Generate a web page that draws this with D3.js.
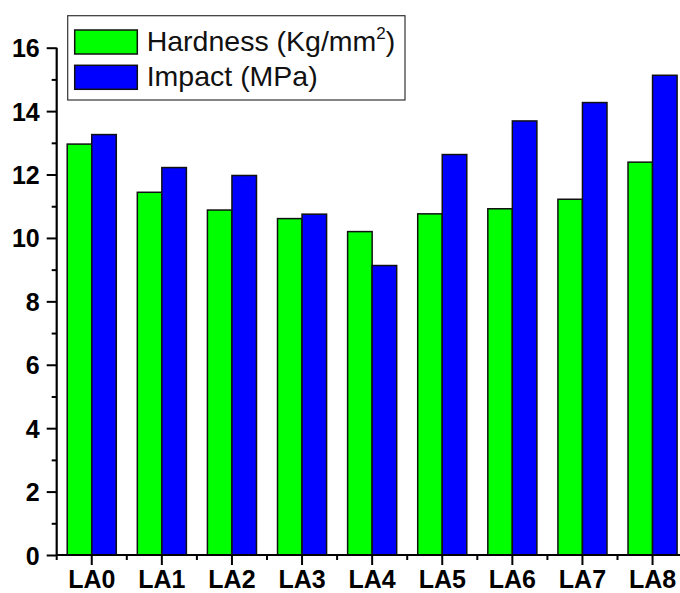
<!DOCTYPE html>
<html>
<head>
<meta charset="utf-8">
<script src="https://cdn.jsdelivr.net/npm/d3@7"></script>
<style>
  body { margin: 0; background: #fff; }
  text { font-family: Arial, "Liberation Sans", sans-serif; }
</style>
</head>
<body>
<svg id="chart" width="680" height="593"></svg>
<script>
const samples = ["LA0", "LA1", "LA2", "LA3", "LA4", "LA5", "LA6", "LA7", "LA8"]
const hardness = [12.96, 11.44, 10.88, 10.61, 10.20, 10.76, 10.92, 11.22, 12.39]
const impact = [13.26, 12.22, 11.97, 10.75, 9.13, 12.63, 13.69, 14.27, 15.13]
const seriesNames = ["hardness", "impact"]
const colors = ["#00ff00", "#0000ff"]
const yMajor = [0, 2, 4, 6, 8, 10, 12, 14, 16]
const yMinor = [1, 3, 5, 7, 9, 11, 13, 15]

const svg = d3.select('#chart')
const plotLeft = 56.7, plotBottom = 555, plotTop = 47.7

const x = d3.scaleBand()
    .domain(samples)
    .range([plotLeft, plotLeft + 9 * 70.1])
    .paddingInner(0.3)
    .paddingOuter(0.15)

const xSub = d3.scaleBand()
    .domain(seriesNames)
    .range([0, x.bandwidth()])

const y = d3.scaleLinear()
    .domain([0, 16])
    .range([plotBottom, plotTop])

const rows = samples.map((s, i) => ({ s, vals: [hardness[i], impact[i]] }))

// bars
svg.append('g')
    .selectAll('g')
    .data(rows)
    .join('g')
    .attr('transform', d => `translate(${x(d.s)},0)`)
    .selectAll('rect')
    .data(d => d.vals.map((v, k) => ({ v, k })))
    .join('rect')
    .attr('x', d => xSub(seriesNames[d.k]))
    .attr('y', d => y(d.v))
    .attr('width', xSub.bandwidth())
    .attr('height', d => plotBottom - y(d.v))
    .attr('fill', d => colors[d.k])
    .attr('stroke', '#111')
    .attr('stroke-width', 1.5)

// y axis
const yAxis = svg.append('g')
    .attr('transform', `translate(${plotLeft},0)`)
    .call(d3.axisLeft(y).tickValues(yMajor).tickSize(10).tickPadding(7).tickFormat(d3.format('d')))
yAxis.select('.domain').attr('stroke-width', 2.2).attr('d', `M0,${plotTop}V${plotBottom}`)
yAxis.selectAll('.tick line').attr('stroke-width', 2)
yAxis.selectAll('.tick text')
    .attr('font-size', 25).attr('font-weight', 'bold').attr('fill', '#000')
    .attr('dy', '0.36em')

svg.append('g')
    .attr('transform', `translate(${plotLeft},0)`)
    .call(d3.axisLeft(y).tickValues(yMinor).tickSize(5).tickFormat(''))
    .call(g => g.select('.domain').remove())
    .selectAll('.tick line').attr('stroke-width', 2)

// x axis
const xAxis = svg.append('g')
    .attr('transform', `translate(0,${plotBottom})`)
    .call(d3.axisBottom(x).tickSize(10).tickPadding(5))
xAxis.select('.domain').attr('stroke-width', 2.2).attr('d', `M${plotLeft},0H${plotLeft + 9 * 70.1}`)
xAxis.selectAll('.tick line').attr('stroke-width', 2)
xAxis.selectAll('.tick text')
    .attr('font-size', 25).attr('font-weight', 'bold').attr('fill', '#000')

const bounds = d3.range(samples.length + 1).map(i => plotLeft + i * x.step())
svg.append('g')
    .attr('transform', `translate(0,${plotBottom})`)
    .selectAll('line')
    .data(bounds)
    .join('line')
    .attr('x1', d => d).attr('x2', d => d)
    .attr('y1', 0).attr('y2', 5)
    .attr('stroke', '#000').attr('stroke-width', 2)

// legend
const legend = svg.append('g')
legend.append('rect')
    .attr('x', 67.7).attr('y', 15.7)
    .attr('width', 337.3).attr('height', 84.3)
    .attr('fill', '#fff').attr('stroke', '#333').attr('stroke-width', 1.2)

const labels = [["Hardness (Kg/mm", "2", ")"], ["Impact (MPa)"]]
labels.forEach((lab, k) => {
    const g = legend.append('g').attr('transform', `translate(0,${30 + k * 35.3})`)
    g.append('rect')
        .attr('x', 74.7).attr('y', 0)
        .attr('width', 62.6).attr('height', 24)
        .attr('fill', colors[k]).attr('stroke', '#111').attr('stroke-width', 1.5)
    const t = g.append('text')
        .attr('x', 146.7).attr('y', 20.5)
        .attr('font-size', 28.5)
        .attr('fill', '#111')
    t.append('tspan').text(lab[0])
    if (lab[1]) {
        t.append('tspan').attr('font-size', 17).attr('dy', -12).text(lab[1])
        t.append('tspan').attr('dy', 12).text(lab[2])
    }
})
</script>
</body>
</html>
